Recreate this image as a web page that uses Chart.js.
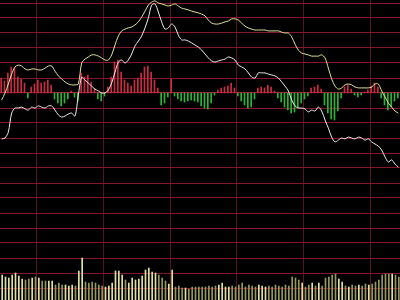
<!DOCTYPE html>
<html>
<head>
<meta charset="utf-8">
<script src="https://cdn.jsdelivr.net/npm/chart.js@4/dist/chart.umd.min.js"></script>
<style>
  html, body { margin: 0; padding: 0; background: #000; }
  canvas { display: block; }
</style>
</head>
<body>
<canvas id="myChart" width="400" height="300"></canvas>
<script>
// intraday % change vs previous close, one point every 2 minutes
var price = [
  -1.53, -1.50, -1.30, -0.67, -0.50, -0.50, -0.47, -0.53, -0.57, -0.47,
  -0.50, -0.43, -0.47, -0.50, -0.43, -0.43, -0.57, -0.73, -0.80, -0.77,
  -0.70, -0.67, -0.77, -0.07, 0.53, 0.43, 0.33, 0.23, 0.13, 0.07,
  0.00, 0.00, 0.10, 0.33, 0.70, 1.03, 1.10, 1.00, 1.10, 1.30,
  1.57, 1.73, 1.90, 2.17, 2.50, 2.93, 2.97, 2.70, 2.37, 2.13,
  2.17, 2.30, 2.20, 1.93, 1.77, 1.77, 1.73, 1.67, 1.60, 1.53,
  1.43, 1.30, 1.17, 1.07, 1.03, 1.07, 1.10, 1.13, 1.20, 1.17,
  1.10, 0.93, 0.87, 0.80, 0.67, 0.53, 0.50, 0.67, 0.67, 0.67,
  0.63, 0.60, 0.57, 0.50, 0.37, 0.23, 0.07, -0.23, -0.43, -0.50,
  -0.50, -0.53, -0.63, -0.57, -0.60, -0.47, -0.60, -0.90, -1.17, -1.47,
  -1.63, -1.57, -1.50, -1.53, -1.47, -1.50, -1.53, -1.47, -1.50, -1.57,
  -1.53, -1.63, -1.70, -1.77, -1.90, -2.13, -2.30, -2.23, -2.37, -2.47
];
var avgPrice = [
  -0.23, 0.00, 0.30, 0.63, 0.87, 0.93, 0.90, 0.80, 0.77, 0.80,
  0.80, 0.77, 0.77, 0.83, 0.90, 0.90, 0.73, 0.57, 0.47, 0.37,
  0.30, 0.27, 0.27, 0.30, 1.00, 1.13, 1.20, 1.27, 1.27, 1.23,
  1.17, 1.10, 1.10, 1.27, 1.60, 1.90, 2.07, 2.13, 2.17, 2.20,
  2.27, 2.37, 2.53, 2.73, 2.93, 3.03, 3.07, 3.00, 2.97, 2.93,
  2.90, 2.93, 2.97, 2.90, 2.83, 2.80, 2.77, 2.73, 2.70, 2.67,
  2.63, 2.57, 2.43, 2.33, 2.30, 2.30, 2.33, 2.37, 2.40, 2.47,
  2.47, 2.43, 2.33, 2.23, 2.17, 2.13, 2.10, 2.10, 2.10, 2.10,
  2.07, 2.07, 2.07, 2.07, 2.03, 2.00, 2.00, 1.87, 1.63, 1.43,
  1.33, 1.30, 1.27, 1.23, 1.23, 1.23, 1.27, 1.17, 0.83, 0.47,
  0.23, 0.13, 0.17, 0.27, 0.30, 0.27, 0.20, 0.17, 0.17, 0.17,
  0.17, 0.20, 0.30, 0.30, 0.07, -0.13, -0.33, -0.47, -0.60, -0.67
];
var macd = [
  0.15, 0.12, 0.20, 0.26, 0.25, 0.16, 0.14, 0.10, -0.05, 0.06,
  0.09, 0.13, 0.10, 0.11, 0.13, 0.08, -0.06, -0.10, -0.13, -0.10,
  -0.06, 0.02, -0.04, -0.08, 0.20, 0.16, 0.18, 0.11, 0.04, -0.06,
  -0.08, -0.03, 0.06, 0.16, 0.31, 0.33, 0.21, 0.13, 0.10, 0.07,
  0.13, 0.15, 0.20, 0.26, 0.27, 0.21, 0.13, 0.05, -0.12, -0.10,
  -0.04, 0.14, -0.03, -0.06, -0.08, -0.09, -0.08, -0.07, -0.08, -0.09,
  -0.13, -0.15, -0.16, -0.10, -0.02, 0.03, 0.05, 0.06, 0.07, 0.10,
  0.05, -0.03, -0.08, -0.12, -0.15, -0.14, -0.06, 0.05, 0.06, 0.05,
  0.08, 0.06, 0.02, -0.05, -0.09, -0.14, -0.17, -0.20, -0.19, -0.15,
  -0.10, -0.06, -0.03, 0.05, 0.06, 0.08, 0.04, -0.12, -0.20, -0.26,
  -0.27, -0.18, -0.05, 0.06, 0.08, 0.04, -0.02, -0.04, -0.02, 0.01,
  0.03, 0.07, 0.10, 0.06, -0.05, -0.12, -0.17, -0.14, -0.08, -0.05
];
var volume = [
  25, 23, 22, 25, 27, 24, 21, 20, 21, 22,
  23, 22, 19, 19, 19, 19, 15, 17, 15, 15,
  14, 15, 14, 29, 42, 18, 17, 18, 17, 15,
  14, 13, 14, 17, 29, 29, 25, 20, 17, 22,
  20, 21, 24, 30, 32, 28, 27, 25, 22, 19,
  16, 30, 13, 14, 12, 12, 11, 13, 13, 13,
  13, 13, 14, 13, 14, 15, 17, 13, 13, 14,
  13, 15, 17, 13, 15, 14, 13, 15, 14, 13,
  14, 13, 15, 14, 13, 15, 14, 23, 22, 20,
  17, 13, 15, 17, 14, 17, 14, 22, 23, 25,
  26, 21, 18, 14, 13, 15, 14, 15, 14, 16,
  15, 16, 18, 20, 25, 26, 26, 26, 25, 23
];
var priceTicks = [3, 2.5, 2, 1.5, 1, 0.5, 0, -0.5, -1, -1.5, -2, -2.5, -3, -3.5, -4, -4.5, -5, -5.5, -6, -6.5];
var timeTicks = [22, 62, 102, 142, 182, 222];

var minutes = [];
for (var i = 0; i < price.length; i++) minutes.push(2 * i + 1);

var macdColors = macd.map(function (v) { return v >= 0 ? 'rgb(200,45,65)' : 'rgb(45,180,55)'; });
var volColors = volume.map(function (v, i) {
  return (i === 0 || price[i] >= price[i - 1]) ? 'rgb(225,225,165)' : 'rgb(150,150,95)';
});

var ctx = document.getElementById('myChart').getContext('2d');
var myChart = new Chart(ctx, {
  type: 'bar',
  data: {
    labels: minutes,
    datasets: [
      { type: 'line', data: avgPrice, yAxisID: 'y', borderColor: 'rgb(225,225,150)', borderWidth: 1, pointRadius: 0, tension: 0.3, order: 0 },
      { type: 'line', data: price, yAxisID: 'y', borderColor: 'rgb(235,235,235)', borderWidth: 1, pointRadius: 0, tension: 0.3, order: 0 },
      { type: 'bar', data: macd, yAxisID: 'yMacd', backgroundColor: macdColors, barThickness: 1, order: 1 },
      { type: 'bar', data: volume, yAxisID: 'yVol', backgroundColor: volColors, barThickness: 1, order: 1 }
    ]
  },
  options: {
    responsive: false,
    animation: false,
    layout: { padding: 0, autoPadding: false },
    scales: {
      x: {
        type: 'linear',
        min: 0,
        max: 240,
        offset: false,
        afterBuildTicks: function (scale) { scale.ticks = timeTicks.map(function (v) { return { value: v }; }); },
        ticks: { display: false },
        border: { display: false },
        grid: { color: 'rgb(85,22,32)', lineWidth: 1, drawTicks: false, offset: false }
      },
      y: {
        min: -6.9,
        max: 3.1,
        afterBuildTicks: function (scale) { scale.ticks = priceTicks.map(function (v) { return { value: v }; }); },
        ticks: { display: false },
        border: { display: false },
        grid: {
          color: function (c) { return c.tick && c.tick.value === 0 ? 'rgb(170,30,50)' : 'rgb(135,22,40)'; },
          lineWidth: 1,
          drawTicks: false
        }
      },
      yMacd: { display: false, min: -2.07, max: 0.93 },
      yVol: { display: false, min: 0, max: 300 }
    },
    plugins: {
      legend: { display: false },
      tooltip: { enabled: false }
    }
  }
});
</script>
</body>
</html>
